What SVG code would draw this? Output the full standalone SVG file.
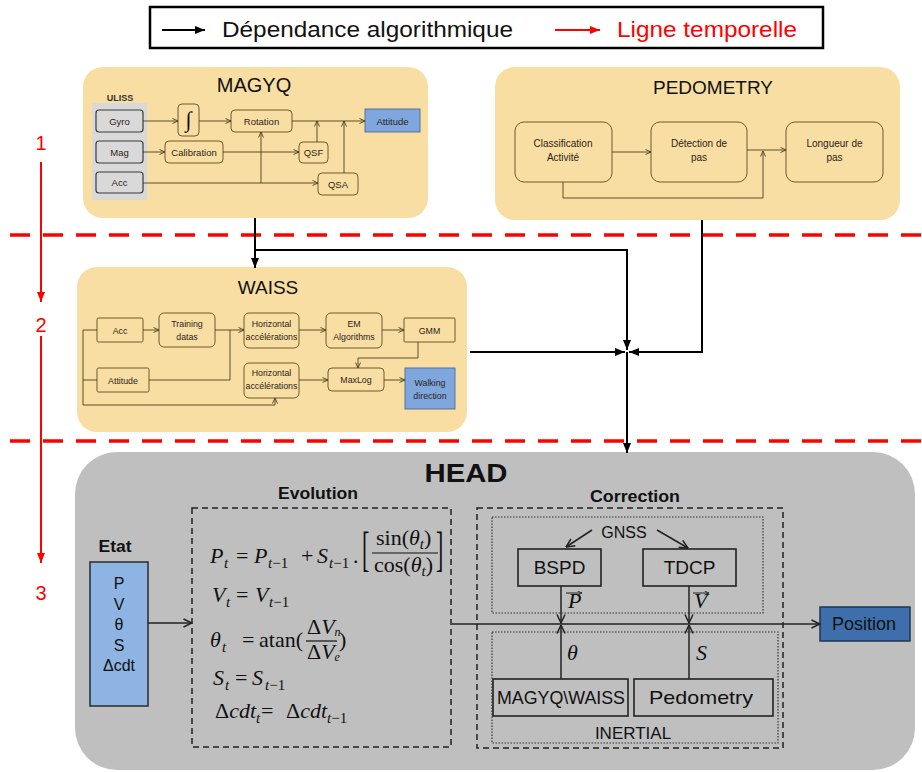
<svg xmlns="http://www.w3.org/2000/svg" width="922" height="772" viewBox="0 0 922 772">
<defs>
<style>
.sans{font-family:"Liberation Sans",Arial,sans-serif}
.b{font-weight:bold}
.mod{fill:#F9DEA3}
.ib{fill:#F9DEA3;stroke:#5E4B22;stroke-width:0.9}
.gb{fill:#D9D9D9;stroke:#3A3A3A;stroke-width:1.2}
.blu{fill:#7FA7DD;stroke:#4A6A9A;stroke-width:0.9}
.il{fill:none;stroke:#4A3D20;stroke-width:0.9}
.t9{font-family:"Liberation Sans",Arial,sans-serif;font-size:9.5px;fill:#2A2418;text-anchor:middle}
.t8{font-family:"Liberation Sans",Arial,sans-serif;font-size:8.8px;fill:#2A2418;text-anchor:middle}
.t10{font-family:"Liberation Sans",Arial,sans-serif;font-size:10px;fill:#2A2418;text-anchor:middle}
.ttl{font-family:"Liberation Sans",Arial,sans-serif;fill:#111;text-anchor:middle}
.bk{fill:none;stroke:#000;stroke-width:2}
.red{fill:none;stroke:#FF0000;stroke-width:2}
.dash{fill:none;stroke:#FF0000;stroke-width:3.5;stroke-dasharray:20 13}
.hl{fill:none;stroke:#222;stroke-width:1.5}
.dbox{fill:none;stroke:#222;stroke-width:1.5;stroke-dasharray:6 4}
.dot{fill:none;stroke:#333;stroke-width:1.2;stroke-dasharray:1.5 1.5}
.hb{fill:none;stroke:#222;stroke-width:1.6}
.ht{font-family:"Liberation Sans",Arial,sans-serif;fill:#111;text-anchor:middle}
.m{font-family:"Liberation Serif","Times New Roman",serif;font-size:22px;fill:#111}
.i{font-style:italic}
.s{font-size:15px}
</style>
<marker id="ab" viewBox="0 0 10 10" refX="10" refY="5" markerWidth="10" markerHeight="10" orient="auto" markerUnits="userSpaceOnUse"><path d="M0,1 L10,5 L0,9 z" fill="#000"/></marker>
<marker id="ar" viewBox="0 0 10 10" refX="10" refY="5" markerWidth="10" markerHeight="10" orient="auto" markerUnits="userSpaceOnUse"><path d="M0,1 L10,5 L0,9 z" fill="#FF0000"/></marker>
<marker id="as" viewBox="0 0 6 6" refX="6" refY="3" markerWidth="6" markerHeight="6" orient="auto" markerUnits="userSpaceOnUse"><path d="M0.5,0.5 L6,3 L0.5,5.5" fill="none" stroke="#4A3D20" stroke-width="0.9"/></marker>
<marker id="ao" viewBox="0 0 10 10" refX="9.5" refY="5" markerWidth="10" markerHeight="10" orient="auto" markerUnits="userSpaceOnUse"><path d="M1,1 L9.5,5 L1,9" fill="none" stroke="#222" stroke-width="1.5"/></marker>
<marker id="av" viewBox="0 0 6 6" refX="6" refY="3" markerWidth="5" markerHeight="5" orient="auto" markerUnits="userSpaceOnUse"><path d="M0.5,0.5 L6,3 L0.5,5.5" fill="none" stroke="#222" stroke-width="1"/></marker>
</defs>

<rect x="0" y="0" width="922" height="772" fill="#FFFFFF"/>

<!-- Legend -->
<g id="legend">
<rect x="150" y="7" width="673" height="41" fill="#FFFFFF" stroke="#000" stroke-width="2.5"/>
<line x1="162" y1="30" x2="205" y2="30" stroke="#000" stroke-width="1.8" marker-end="url(#ab)"/>
<text x="222" y="37" class="sans" font-size="22" fill="#111" textLength="291" lengthAdjust="spacingAndGlyphs">Dépendance algorithmique</text>
<line x1="555" y1="30" x2="600" y2="30" stroke="#FF0000" stroke-width="1.8" marker-end="url(#ar)"/>
<text x="617" y="37" class="sans" font-size="22" fill="#FF0000" textLength="180" lengthAdjust="spacingAndGlyphs">Ligne temporelle</text>
</g>

<!-- Timeline -->
<g id="timeline">
<line class="dash" x1="10" y1="235" x2="922" y2="235"/>
<line class="dash" x1="10" y1="441" x2="922" y2="441"/>
<text x="41" y="150" class="sans" font-size="20" fill="#FF0000" text-anchor="middle">1</text>
<line class="red" x1="41" y1="162" x2="41" y2="302" marker-end="url(#ar)"/>
<text x="41" y="332" class="sans" font-size="20" fill="#FF0000" text-anchor="middle">2</text>
<line class="red" x1="41" y1="336" x2="41" y2="563" marker-end="url(#ar)"/>
<text x="41" y="600" class="sans" font-size="20" fill="#FF0000" text-anchor="middle">3</text>
</g>

<!-- MAGYQ -->
<g id="magyq">
<rect class="mod" x="83" y="67" width="345" height="151" rx="20"/>
<text x="254" y="92" class="ttl" font-size="20">MAGYQ</text>
<rect x="92" y="103" width="55" height="97" fill="#D9D9D9"/>
<text x="120" y="101" class="sans b" font-size="9" fill="#333" text-anchor="middle">ULISS</text>
<rect class="gb" x="96" y="110" width="47" height="22" rx="3"/>
<text x="119.5" y="124.5" class="t9">Gyro</text>
<rect class="gb" x="96" y="141" width="47" height="22" rx="3"/>
<text x="119.5" y="155.5" class="t9">Mag</text>
<rect class="gb" x="96" y="172" width="47" height="21" rx="3"/>
<text x="119.5" y="186" class="t9">Acc</text>
<rect class="ib" x="178" y="104" width="21" height="32" rx="4"/>
<text x="188.5" y="127" font-family="Liberation Serif,serif" font-size="22" fill="#111" text-anchor="middle">∫</text>
<rect class="ib" x="231" y="110" width="61" height="22" rx="4"/>
<text x="261.5" y="124.5" class="t9">Rotation</text>
<rect class="blu" x="365" y="109" width="55" height="23"/>
<text x="392.5" y="124.5" class="t9">Attitude</text>
<rect class="ib" x="165" y="141" width="58" height="22" rx="4"/>
<text x="194" y="155.5" class="t9">Calibration</text>
<rect class="ib" x="299" y="142" width="29" height="21" rx="4"/>
<text x="313.5" y="156" class="t9">QSF</text>
<rect class="ib" x="318" y="173" width="40" height="22" rx="4"/>
<text x="338" y="187.5" class="t9">QSA</text>
<g>
<line class="il" x1="143" y1="121" x2="178" y2="121" marker-end="url(#as)"/>
<line class="il" x1="199" y1="121" x2="231" y2="121" marker-end="url(#as)"/>
<line class="il" x1="292" y1="121" x2="365" y2="121" marker-end="url(#as)"/>
<line class="il" x1="143" y1="152" x2="165" y2="152" marker-end="url(#as)"/>
<line class="il" x1="223" y1="152" x2="299" y2="152" marker-end="url(#as)"/>
<line class="il" x1="143" y1="183" x2="318" y2="183" marker-end="url(#as)"/>
<line class="il" x1="261" y1="183" x2="261" y2="132" marker-end="url(#as)"/>
<line class="il" x1="317" y1="142" x2="317" y2="121" marker-end="url(#as)"/>
<line class="il" x1="344" y1="173" x2="344" y2="121" marker-end="url(#as)"/>
</g>
</g>

<!-- PEDOMETRY -->
<g id="pedometry">
<rect class="mod" x="495" y="67" width="405" height="153" rx="20"/>
<text x="713" y="94" class="ttl" font-size="19">PEDOMETRY</text>
<rect class="ib" x="515" y="122" width="97" height="60" rx="9"/>
<text x="563" y="147" class="t10">Classification</text>
<text x="563" y="161" class="t10">Activité</text>
<rect class="ib" x="651" y="122" width="96" height="60" rx="9"/>
<text x="699" y="147" class="t10">Détection de</text>
<text x="699" y="161" class="t10">pas</text>
<rect class="ib" x="786" y="122" width="97" height="60" rx="9"/>
<text x="834.5" y="147" class="t10">Longueur de</text>
<text x="834.5" y="161" class="t10">pas</text>
<line class="il" x1="612" y1="152" x2="651" y2="152" marker-end="url(#as)"/>
<line class="il" x1="747" y1="150" x2="786" y2="150" marker-end="url(#as)"/>
<polyline class="il" points="563,182 563,198 763,198 763,151" marker-end="url(#as)"/>
</g>

<!-- WAISS -->
<g id="waiss">
<rect class="mod" x="77" y="267" width="390" height="165" rx="20"/>
<text x="268" y="294" class="ttl" font-size="19">WAISS</text>
<rect class="ib" x="97" y="318" width="46" height="24" rx="1.5"/>
<text x="120" y="333.5" class="t8">Acc</text>
<rect class="ib" x="159" y="313" width="56" height="34" rx="5"/>
<text x="187" y="327" class="t8">Training</text>
<text x="187" y="340" class="t8">datas</text>
<rect class="ib" x="244" y="313" width="55" height="35" rx="5"/>
<text x="271.5" y="327" class="t8">Horizontal</text>
<text x="271.5" y="340" class="t8">accélérations</text>
<rect class="ib" x="326" y="313" width="56" height="35" rx="5"/>
<text x="354" y="327" class="t8">EM</text>
<text x="354" y="340" class="t8">Algorithms</text>
<rect class="ib" x="404" y="318" width="51" height="24" rx="1"/>
<text x="429.5" y="333.5" class="t8">GMM</text>
<rect class="ib" x="97" y="368" width="52" height="24" rx="1.5"/>
<text x="123" y="383.5" class="t8">Attitude</text>
<rect class="ib" x="244" y="363" width="55" height="35" rx="5"/>
<text x="271.5" y="376" class="t8">Horizontal</text>
<text x="271.5" y="389" class="t8">accélérations</text>
<rect class="ib" x="328" y="368" width="56" height="23" rx="4"/>
<text x="356" y="383" class="t8">MaxLog</text>
<rect class="blu" x="405" y="368" width="50" height="41"/>
<text x="430" y="386" class="t8">Walking</text>
<text x="430" y="399" class="t8">direction</text>
<g>
<line class="il" x1="143" y1="330" x2="159" y2="330" marker-end="url(#as)"/>
<line class="il" x1="215" y1="330" x2="244" y2="330" marker-end="url(#as)"/>
<polyline class="il" points="149,380 230,380 230,330"/>
<polyline class="il" points="97,330 83,330 83,405 275,405 275,398" marker-end="url(#as)"/>
<line class="il" x1="97" y1="380" x2="83" y2="380"/>
<line class="il" x1="299" y1="330" x2="326" y2="330" marker-end="url(#as)"/>
<line class="il" x1="382" y1="330" x2="404" y2="330" marker-end="url(#as)"/>
<polyline class="il" points="418,342 418,358 358,358 358,368" marker-end="url(#as)"/>
<line class="il" x1="299" y1="380" x2="328" y2="380" marker-end="url(#as)"/>
<line class="il" x1="384" y1="380" x2="405" y2="380" marker-end="url(#as)"/>
</g>
</g>

<!-- HEAD -->
<g id="head">
<rect x="75" y="452" width="840" height="318" rx="42" fill="#BFBFBF"/>
<text x="466" y="482" class="ht b" font-size="25" textLength="83" lengthAdjust="spacingAndGlyphs">HEAD</text>
</g>

<g id="evolution">
<text x="318" y="499" class="ht b" font-size="16" textLength="80" lengthAdjust="spacingAndGlyphs">Evolution</text>
<rect class="dbox" x="192" y="508" width="259" height="239"/>
<!-- eq1 -->
<text class="m" y="563"><tspan x="210" class="i">P</tspan><tspan x="224" dy="5" class="i s">t</tspan><tspan x="236" dy="-5">=</tspan><tspan x="254" class="i">P</tspan><tspan x="268" dy="5" class="i s">t</tspan><tspan class="s">−1</tspan><tspan x="301" dy="-5">+</tspan><tspan x="317" class="i">S</tspan><tspan x="329" dy="5" class="i s">t</tspan><tspan class="s">−1</tspan><tspan x="353" dy="-5">.</tspan></text>
<text class="m" x="362" y="544" transform="translate(0,-632) scale(1,2.2)" font-size="22">[</text>
<text class="m" x="436" y="544" transform="translate(0,-632) scale(1,2.2)" font-size="22">]</text>
<text class="m" y="545"><tspan x="376">sin(</tspan><tspan class="i">θ</tspan><tspan dy="4" class="i s">t</tspan><tspan dy="-4">)</tspan></text>
<line x1="372" y1="553" x2="438" y2="553" stroke="#111" stroke-width="1.2"/>
<text class="m" y="572"><tspan x="374">cos(</tspan><tspan class="i">θ</tspan><tspan dy="4" class="i s">t</tspan><tspan dy="-4">)</tspan></text>
<!-- eq2 -->
<text class="m" y="602"><tspan x="212" class="i">V</tspan><tspan x="226" dy="5" class="i s">t</tspan><tspan x="236" dy="-5">=</tspan><tspan x="255" class="i">V</tspan><tspan x="269" dy="5" class="i s">t</tspan><tspan class="s">−1</tspan></text>
<!-- eq3 -->
<text class="m" y="647"><tspan x="210" class="i">θ</tspan><tspan x="222" dy="5" class="i s">t</tspan><tspan x="242" dy="-5">=</tspan><tspan x="259">atan(</tspan></text>
<text class="m" y="634" font-size="17"><tspan x="307">Δ</tspan><tspan class="i">V</tspan><tspan dy="2" class="i" font-size="12">n</tspan></text>
<line x1="306" y1="641" x2="337" y2="641" stroke="#111" stroke-width="1.2"/>
<text class="m" y="659" font-size="17"><tspan x="307">Δ</tspan><tspan class="i">V</tspan><tspan dy="2" class="i" font-size="12">e</tspan></text>
<text class="m" x="339" y="647">)</text>
<!-- eq4 -->
<text class="m" y="685"><tspan x="213" class="i">S</tspan><tspan x="225" dy="5" class="i s">t</tspan><tspan x="235" dy="-5">=</tspan><tspan x="252" class="i">S</tspan><tspan x="265" dy="5" class="i s">t</tspan><tspan class="s">−1</tspan></text>
<!-- eq5 -->
<text class="m" y="718"><tspan x="215">Δ</tspan><tspan class="i">cdt</tspan><tspan dy="5" class="i s">t</tspan><tspan x="261" dy="-5">=</tspan><tspan x="286">Δ</tspan><tspan class="i">cdt</tspan><tspan dy="5" class="i s">t</tspan><tspan class="s">−1</tspan></text>
</g>

<g id="etat">
<text x="115" y="552" class="ht b" font-size="16" textLength="33" lengthAdjust="spacingAndGlyphs">Etat</text>
<rect x="90" y="562" width="58" height="144" fill="#8DB4E2" stroke="#2B2B2B" stroke-width="1.5"/>
<text x="119" y="589" class="ht" font-size="16">P</text>
<text x="119" y="610" class="ht" font-size="16">V</text>
<text x="119" y="630" class="ht" font-size="16">θ</text>
<text x="119" y="651" class="ht" font-size="16">S</text>
<text x="119" y="671" class="ht" font-size="16">Δcdt</text>
</g>

<g id="correction">
<text x="635" y="502" class="ht b" font-size="16" textLength="90" lengthAdjust="spacingAndGlyphs">Correction</text>
<rect class="dbox" x="477" y="508" width="306" height="240"/>
</g>

<g id="gnss">
<rect class="dot" x="492" y="517" width="271" height="96"/>
<text x="624" y="538" class="ht" font-size="16">GNSS</text>
</g>

<g id="bspd">
<rect class="hb" x="518" y="549" width="83" height="37"/>
<text x="559.5" y="574" class="ht" font-size="19">BSPD</text>
</g>

<g id="tdcp">
<rect class="hb" x="643" y="549" width="93" height="37"/>
<text x="689.5" y="574" class="ht" font-size="19">TDCP</text>
</g>

<g id="inertial">
<rect class="dot" x="492" y="632" width="286" height="111"/>
<text x="633" y="739" class="ht" font-size="17">INERTIAL</text>
</g>

<g id="magyq-waiss">
<rect class="hb" x="493" y="679" width="135" height="37"/>
<text x="561" y="704" class="ht" font-size="19" textLength="128" lengthAdjust="spacingAndGlyphs">MAGYQ\WAISS</text>
</g>

<g id="pedometry-head">
<rect class="hb" x="634" y="679" width="139" height="37"/>
<text x="701" y="704" class="ht" font-size="19" textLength="104" lengthAdjust="spacingAndGlyphs">Pedometry</text>
</g>

<g id="position">
<rect x="820" y="607" width="90" height="34" fill="#3E6EAC" stroke="#1F3552" stroke-width="1.5"/>
<text x="864" y="630" class="ht" font-size="18" fill="#0F1F33">Position</text>
</g>

<!-- Connectors -->
<g id="connectors">
<line class="bk" x1="255" y1="218" x2="255" y2="268" marker-end="url(#ab)"/>
<polyline class="bk" points="255,250 627,250 627,350" marker-end="url(#ab)"/>
<line class="bk" x1="470" y1="352" x2="625" y2="352" marker-end="url(#ab)"/>
<polyline class="bk" points="702,220 702,352 629,352" marker-end="url(#ab)"/>
<line class="bk" x1="627" y1="352" x2="627" y2="453" marker-end="url(#ab)"/>

<line class="hl" x1="148" y1="623" x2="192" y2="623" marker-end="url(#ao)"/>
<line class="hl" x1="452" y1="624" x2="820" y2="624" marker-end="url(#ao)"/>
<line class="hl" x1="592" y1="530" x2="566" y2="547" marker-end="url(#ao)"/>
<line class="hl" x1="657" y1="530" x2="688" y2="548" marker-end="url(#ao)"/>
<line class="hl" x1="561" y1="586" x2="561" y2="623" marker-end="url(#ao)"/>
<line class="hl" x1="689" y1="586" x2="689" y2="623" marker-end="url(#ao)"/>
<line class="hl" x1="561" y1="679" x2="561" y2="625" marker-end="url(#ao)"/>
<line class="hl" x1="689" y1="679" x2="689" y2="625" marker-end="url(#ao)"/>
<text class="m i" x="568" y="608" font-size="18">P</text>
<line x1="566" y1="593" x2="582" y2="593" stroke="#222" stroke-width="1" marker-end="url(#av)"/>
<text class="m i" x="694" y="608" font-size="18">V</text>
<line x1="693" y1="593" x2="709" y2="593" stroke="#222" stroke-width="1" marker-end="url(#av)"/>
<text class="m i" x="567" y="660" font-size="18">θ</text>
<text class="m i" x="696" y="660" font-size="18">S</text>
</g>
</svg>
